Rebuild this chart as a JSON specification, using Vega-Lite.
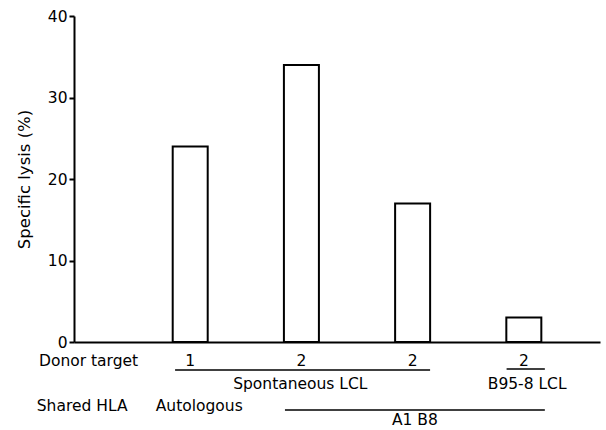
{
  "$schema": "https://vega.github.io/schema/vega-lite/v6.json",
  "autosize": {"type": "none"},
  "padding": {"left": 74, "top": 16, "right": 6, "bottom": 88},
  "width": 526,
  "height": 326,
  "background": "white",
  "config": {
    "view": {"stroke": null},
    "font": "DejaVu Sans",
    "text": {"font": "DejaVu Sans", "fontSize": 15.5, "color": "black"},
    "axis": {"grid": false, "domainColor": "black", "domainWidth": 2, "tickColor": "black", "tickWidth": 2, "labelColor": "black", "titleColor": "black", "labelFont": "DejaVu Sans", "titleFont": "DejaVu Sans", "titleFontWeight": "normal"}
  },
  "datasets": {
    "bars": [
      {"donor": "1", "pos": 1, "lysis": 24},
      {"donor": "2", "pos": 2, "lysis": 34},
      {"donor": "2", "pos": 3, "lysis": 17},
      {"donor": "2", "pos": 4, "lysis": 3}
    ],
    "rowLabels": [
      {"label": "Donor target", "x": -0.36, "y": -2.3},
      {"label": "Shared HLA", "x": -0.38, "y": -7.85},
      {"label": "Autologous", "x": 0.69, "y": -7.85}
    ],
    "groupLabels": [
      {"label": "Spontaneous LCL", "x": 1.99, "y": -5.15},
      {"label": "B95-8 LCL", "x": 4.03, "y": -5.15},
      {"label": "A1 B8", "x": 3.02, "y": -9.6}
    ],
    "brackets": [
      {"x": 0.864, "x2": 3.157, "y": -3.44},
      {"x": 3.845, "x2": 4.189, "y": -3.31},
      {"x": 1.852, "x2": 4.189, "y": -8.34}
    ]
  },
  "layer": [
    {
      "data": {"name": "bars"},
      "mark": {"type": "bar", "width": 35, "fill": "white", "stroke": "black", "strokeWidth": 2},
      "encoding": {
        "x": {"field": "pos", "type": "quantitative", "scale": {"domain": [0, 4.64], "nice": false, "zero": false},
              "axis": {"labels": false, "ticks": false, "title": null}},
        "y": {"field": "lysis", "type": "quantitative", "scale": {"domain": [0, 40], "nice": false},
              "axis": {"values": [0, 10, 20, 30, 40], "tickSize": 5, "labelPadding": 2, "labelFontSize": 15.5, "title": "Specific lysis (%)", "titleFontSize": 16.5, "titlePadding": 15}}
      }
    },
    {
      "data": {"name": "bars"},
      "mark": {"type": "text", "align": "center", "baseline": "middle"},
      "encoding": {
        "x": {"field": "pos", "type": "quantitative"},
        "y": {"datum": -2.3},
        "text": {"field": "donor"}
      }
    },
    {
      "data": {"name": "rowLabels"},
      "mark": {"type": "text", "align": "left", "baseline": "middle"},
      "encoding": {
        "x": {"field": "x", "type": "quantitative"},
        "y": {"field": "y", "type": "quantitative"},
        "text": {"field": "label"}
      }
    },
    {
      "data": {"name": "groupLabels"},
      "mark": {"type": "text", "align": "center", "baseline": "middle"},
      "encoding": {
        "x": {"field": "x", "type": "quantitative"},
        "y": {"field": "y", "type": "quantitative"},
        "text": {"field": "label"}
      }
    },
    {
      "data": {"name": "brackets"},
      "mark": {"type": "rule", "color": "black", "strokeWidth": 1.5},
      "encoding": {
        "x": {"field": "x", "type": "quantitative"},
        "x2": {"field": "x2"},
        "y": {"field": "y", "type": "quantitative"}
      }
    }
  ]
}
